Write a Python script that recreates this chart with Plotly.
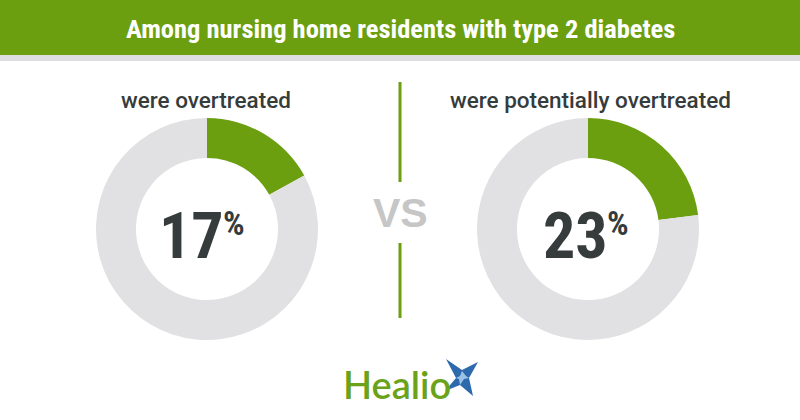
import plotly.graph_objects as go

# data
labels = ["Overtreated", "Other"]
left_values = [17, 83]
right_values = [23, 77]
left_title = "were overtreated"
right_title = "were potentially overtreated"
header = "Among nursing home residents with type 2 diabetes"

W, H = 800, 420
GREEN = "#6b9f10"
RING = "#e1e1e3"
DARK = "#363b3c"
COND = "Roboto Condensed, Liberation Sans Narrow, DejaVu Sans Condensed, Roboto"


def px(x):
    return x / W


def py(y):
    return 1 - y / H


def domain(cx, cy, r):
    return dict(x=[px(cx - r), px(cx + r)], y=[py(cy + r), py(cy - r)])


fig = go.Figure()
for vals, cx in [(left_values, 207), (right_values, 588)]:
    fig.add_trace(go.Pie(
        labels=labels, values=vals, hole=0.64, sort=False, direction="clockwise",
        rotation=0, textinfo="none", hoverinfo="label+percent",
        marker=dict(colors=[GREEN, RING], line=dict(width=0)),
        domain=domain(cx, 229, 111), showlegend=False,
    ))

shapes = [
    dict(type="rect", xref="paper", yref="paper", x0=0, x1=1, y0=py(55), y1=1,
         fillcolor=GREEN, line_width=0, layer="below"),
    dict(type="rect", xref="paper", yref="paper", x0=0, x1=1, y0=py(61), y1=py(55),
         fillcolor="#dedde1", line_width=0, layer="below"),
    dict(type="line", xref="paper", yref="paper", x0=px(400), x1=px(400), y0=py(82), y1=py(182),
         line=dict(color=GREEN, width=3)),
    dict(type="line", xref="paper", yref="paper", x0=px(400), x1=px(400), y0=py(243), y1=py(318),
         line=dict(color=GREEN, width=3)),
]

# Healio star (4 points)
pts = [(446, 359), (462, 370), (478, 362), (469, 378), (473, 396), (460, 385), (445, 391), (456, 378)]
path = "M " + " L ".join(f"{px(x)},{py(y)}" for x, y in pts) + " Z"
shapes.append(dict(type="path", xref="paper", yref="paper", path=path,
                   fillcolor="#2c69ad", line_width=0))
spark = [(462, 371), (466, 376), (469, 378), (464, 379), (460, 385), (459, 379), (456, 378), (460, 376)]
path2 = "M " + " L ".join(f"{px(x)},{py(y)}" for x, y in spark) + " Z"
shapes.append(dict(type="path", xref="paper", yref="paper", path=path2,
                   fillcolor="#9cc3e6", line_width=0))


def ann(text, x, y, size, color, family="Roboto", weight="normal", xanchor="center"):
    return dict(text=text, x=px(x), y=py(y), xref="paper", yref="paper", showarrow=False,
                xanchor=xanchor, yanchor="middle",
                font=dict(size=size, color=color, family=family, weight=weight))


annotations = [
    ann(header, 400, 29, 26.5, "white", COND, "bold"),
    ann(left_title, 206, 100, 22.5, DARK, "Roboto", 500),
    ann(right_title, 590, 100, 22.5, DARK, "Roboto", 500),
    ann(f"{left_values[0]}", 226, 236, 64, DARK, COND, "bold", "right"),
    ann("%", 221, 223, 34, DARK, COND, "bold", "left"),
    ann(f"{right_values[0]}", 610, 236, 64, DARK, COND, "bold", "right"),
    ann("%", 605, 223, 34, DARK, COND, "bold", "left"),
    ann("VS", 400, 213, 41, "#c6c6c6", "Liberation Sans", "bold"),
    ann("Healio", 397, 384, 38, "#6aa31a", "Lato", 600),
]

fig.update_layout(
    width=W, height=H, margin=dict(l=0, r=0, t=0, b=0),
    paper_bgcolor="white", plot_bgcolor="white",
    shapes=shapes, annotations=annotations,
)
fig.write_html("out.html", config={"displayModeBar": False},
               post_script="document.body.style.margin='0';")
